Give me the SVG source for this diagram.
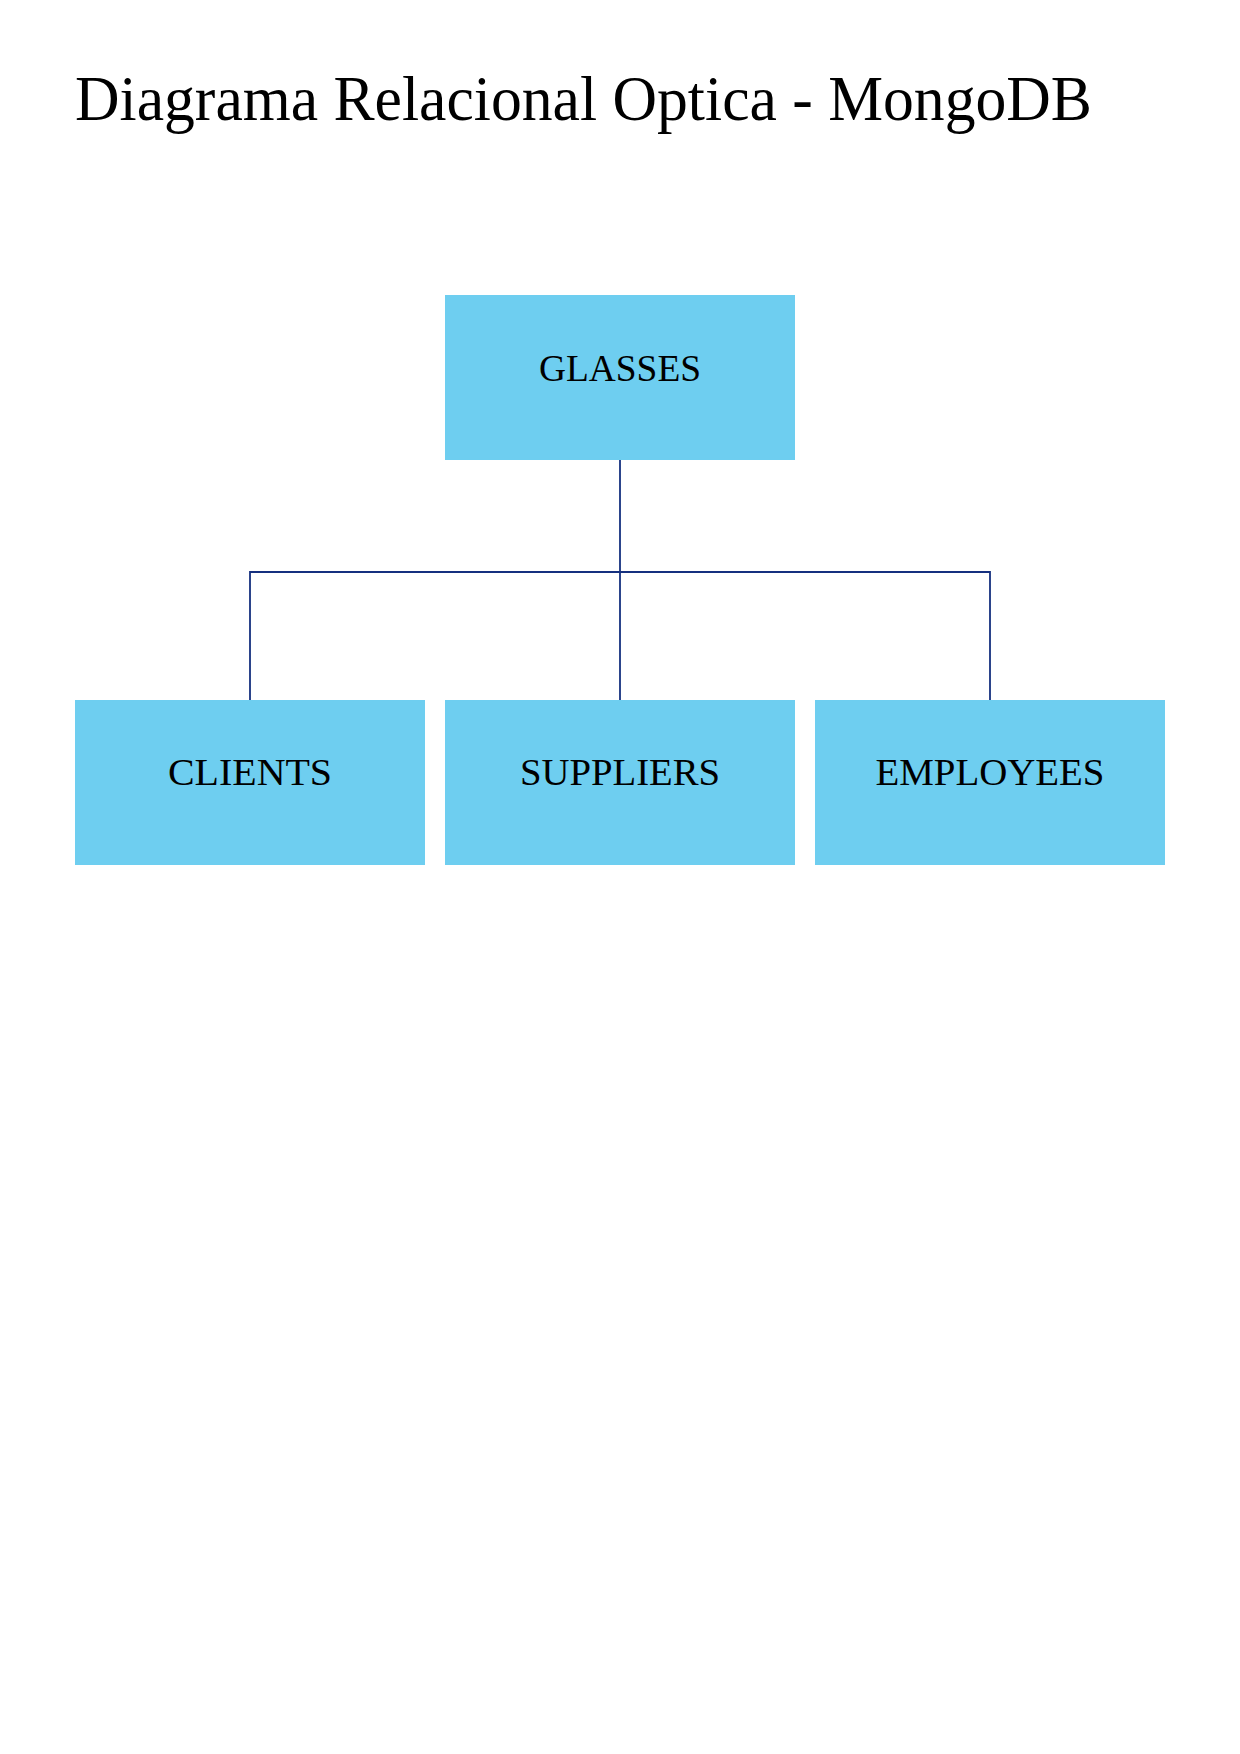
<svg xmlns="http://www.w3.org/2000/svg" width="1240" height="1754" viewBox="0 0 1240 1754">
<style>
.box{fill:#6ecef0;}
.lbl{font-family:"Liberation Serif","Times New Roman",serif;font-size:38px;fill:#000;text-anchor:middle;}
.title{font-family:"Liberation Serif","Times New Roman",serif;font-size:63px;fill:#000;}
.conn{fill:none;stroke:#15307f;stroke-width:1.8;}
</style>
<rect x="0" y="0" width="1240" height="1754" fill="#fff"/>
<text class="title" x="75" y="120" textLength="1017" lengthAdjust="spacingAndGlyphs">Diagrama Relacional Optica - MongoDB</text>
<g id="connectors">
<path class="conn" d="M620 460 V700"/>
<path class="conn" d="M250 700 V572 H990 V700"/>
</g>
<g id="glasses">
<rect class="box" x="445" y="295" width="350" height="165"/>
<text class="lbl" x="620" y="381" textLength="162" lengthAdjust="spacingAndGlyphs">GLASSES</text>
</g>
<g id="clients">
<rect class="box" x="75" y="700" width="350" height="165"/>
<text class="lbl" x="250" y="785" textLength="164" lengthAdjust="spacingAndGlyphs">CLIENTS</text>
</g>
<g id="suppliers">
<rect class="box" x="445" y="700" width="350" height="165"/>
<text class="lbl" x="620" y="785" textLength="200" lengthAdjust="spacingAndGlyphs">SUPPLIERS</text>
</g>
<g id="employees">
<rect class="box" x="815" y="700" width="350" height="165"/>
<text class="lbl" x="990" y="785" textLength="229" lengthAdjust="spacingAndGlyphs">EMPLOYEES</text>
</g>
</svg>
